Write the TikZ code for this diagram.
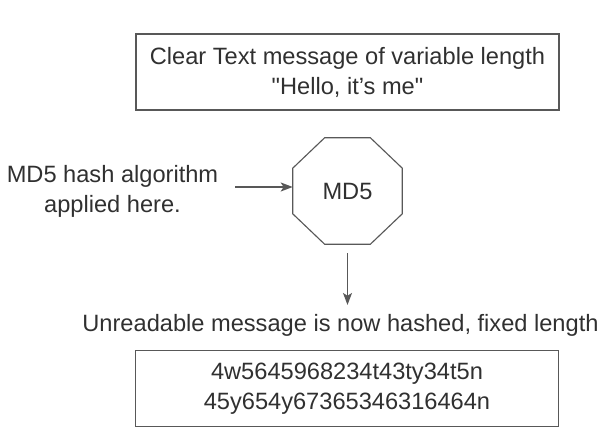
\documentclass[tikz,border=0pt]{standalone}
\usepackage{fontspec}
\setmainfont{Liberation Sans}
\usetikzlibrary{positioning,arrows.meta,calc}
\definecolor{LineGray}{RGB}{88,88,88}
\definecolor{InkGray}{RGB}{48,48,48}

\begin{document}
\begin{tikzpicture}[x=0.025cm, y=-0.025cm,
  every node/.style={font=\fontsize{16.8}{21.3}\selectfont, text=InkGray, align=center},
  msgbox/.style={draw=LineGray, line width=1.1pt, minimum width=10.575cm, minimum height=1.9cm},
  arr/.style={-{Stealth[length=8.5pt,width=6.4pt,inset=2pt]}, draw=LineGray, line width=0.9pt}]
  \useasboundingbox (0,0) rectangle (604,438);

  \node[msgbox] (clear) at (347.5,72) {Clear Text message of variable length\\\textquotedbl Hello, it's me\textquotedbl};
  \node[minimum width=2.725cm, minimum height=2.65cm] (md5) at (347.5,191) {MD5};
  \draw[LineGray, line width=0.8pt]
    ($(md5.north west)+(32,0)$) -- ($(md5.north east)+(-32,0)$) -- ($(md5.north east)+(0,30.5)$)
    -- ($(md5.south east)+(0,-30.5)$) -- ($(md5.south east)+(-32,0)$) -- ($(md5.south west)+(32,0)$)
    -- ($(md5.south west)+(0,-30.5)$) -- ($(md5.north west)+(0,30.5)$) -- cycle;
  \node (note) at (112.5,191.5) {MD5 hash algorithm\\applied here.};
  \node[anchor=base] (hashed) at (340.5,332) {Unreadable message is now hashed, fixed length};
  \node[msgbox] (result) at (347,388.5) {4w5645968234t43ty34t5n\\45y654y67365346316464n};

  \coordinate (notetip) at ($(note.east)+(0,-4.5)$);
  \draw[arr, shorten <=0.3cm] (notetip) -- (notetip -| md5.west);
  \draw[arr, shorten <=0.225cm, shorten >=0.125cm] (md5.south) -- (md5.south |- hashed.north);
\end{tikzpicture}
\end{document}
